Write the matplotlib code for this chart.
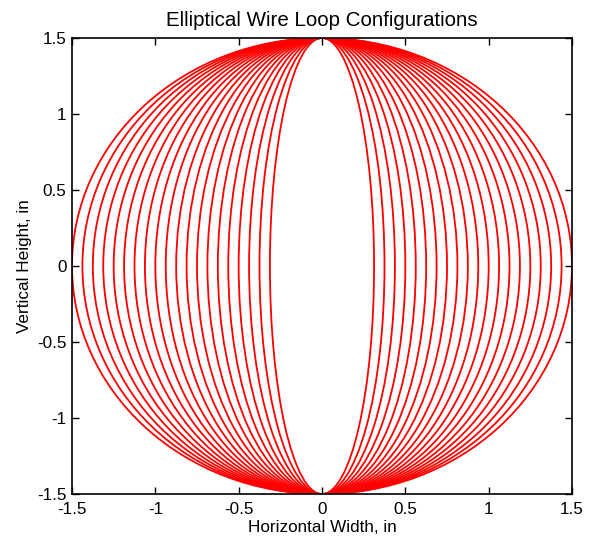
import numpy as np
import matplotlib
matplotlib.use("Agg")
import matplotlib.pyplot as plt
from matplotlib.patches import Ellipse

plt.rcParams.update({
    "font.family": ["Liberation Sans", "DejaVu Sans"],
    "font.size": 12.3,
})

# horizontal semi-axes of the loops (in), vertical semi-axis fixed
half_widths = [0.3125, 0.375, 0.4375, 0.5, 0.5625, 0.625, 0.6875, 0.75, 0.8125, 0.875,
               0.9375, 1.0, 1.0625, 1.125, 1.1875, 1.25, 1.3125, 1.375, 1.4375, 1.5]
half_height = 1.5

xticks = [-1.5, -1, -0.5, 0, 0.5, 1, 1.5]
yticks = [-1.5, -1, -0.5, 0, 0.5, 1, 1.5]

fig = plt.figure(figsize=(5.93, 5.43), dpi=100)
ax = fig.add_axes([0.1214, 0.0902, 0.8432, 0.8398])

for a in half_widths:
    ax.add_patch(Ellipse((0, 0), 2 * a, 2 * half_height, fill=False,
                         edgecolor="#ff0000", linewidth=1.3))

ax.set_xlim(-1.5, 1.5)
ax.set_ylim(-1.5, 1.5)
ax.set_xticks(xticks)
ax.set_yticks(yticks)
ax.set_xticklabels([f"{v:g}" for v in xticks])
ax.set_yticklabels([f"{v:g}" for v in yticks])
ax.tick_params(direction="in", top=True, right=True, length=5, width=1.0)
ax.tick_params(axis="x", pad=6)
ax.tick_params(axis="y", pad=4)
for s in ax.spines.values():
    s.set_linewidth(1.2)

ax.set_xlabel("Horizontal Width, in", labelpad=2)
ax.set_ylabel("Vertical Height, in", labelpad=4)
ax.set_title("Elliptical Wire Loop Configurations", fontsize=14.8, pad=9)

fig.savefig("out.png", dpi=100)
